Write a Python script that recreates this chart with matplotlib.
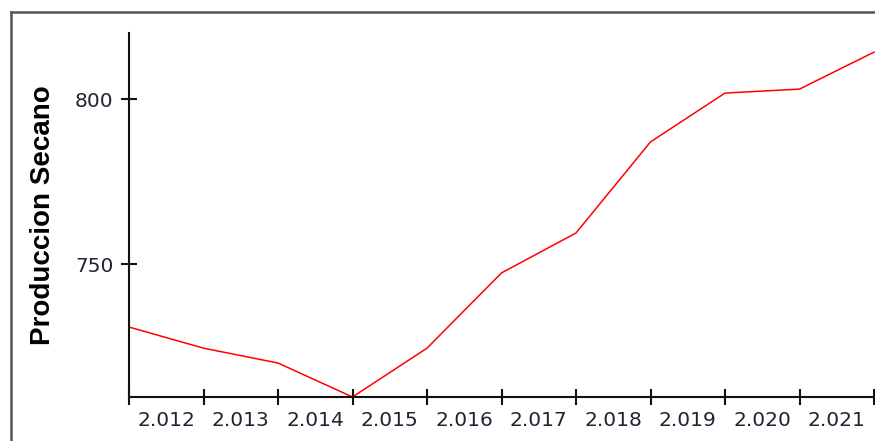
import numpy as np
import matplotlib as mpl
import matplotlib.pyplot as plt
from matplotlib.lines import Line2D

mpl.rcParams['font.family'] = 'DejaVu Sans'

# data
years = ['2.012', '2.013', '2.014', '2.015', '2.016',
         '2.017', '2.018', '2.019', '2.020', '2.021']
produccion = [730.9, 724.5, 720.0, 709.7, 724.5, 747.3,
              759.4, 787.0, 801.8, 803.0, 814.2]
yticks = [750, 800]

fig = plt.figure(figsize=(8.75, 4.41), dpi=100)
ax = fig.add_axes([129 / 875, 1 - 397 / 441, 745 / 875, 364 / 441])

x = np.arange(len(produccion))
ax.plot(x, produccion, color='#ff0000', lw=1.1, clip_on=False)

ax.set_xlim(0, len(produccion) - 1)
ax.set_ylim(709.7, 820)

for s in ['top', 'right']:
    ax.spines[s].set_visible(False)
for s in ['left', 'bottom']:
    ax.spines[s].set_linewidth(1.5)
    ax.spines[s].set_color('#111111')

# ticks on the points, year labels centred between them
ax.set_xticks(x)
ax.set_xticklabels([])
ax.set_xticks(x[:-1] + 0.5, minor=True)
ax.set_xticklabels(years, minor=True)
ax.tick_params(axis='x', which='major', direction='inout', length=12,
               width=1.5, color='#111111')
ax.tick_params(axis='x', which='minor', length=0, pad=10,
               labelsize=14.5, labelcolor='#222233')

ax.set_yticks(yticks)
ax.tick_params(axis='y', direction='inout', length=12, width=1.5,
               color='#111111', labelsize=14.5, labelcolor='#222233', pad=5)

ax.set_ylabel('Produccion Secano', family='Liberation Sans',
              fontweight='bold', fontsize=20, labelpad=14)

# frame around the chart
fig.add_artist(Line2D([11 / 875, 11 / 875], [0, 1 - 12 / 441],
                      transform=fig.transFigure, color='#555555', lw=1.8))
fig.add_artist(Line2D([11 / 875, 1], [1 - 12 / 441, 1 - 12 / 441],
                      transform=fig.transFigure, color='#555555', lw=1.8))

plt.savefig('out.png', dpi=100)
